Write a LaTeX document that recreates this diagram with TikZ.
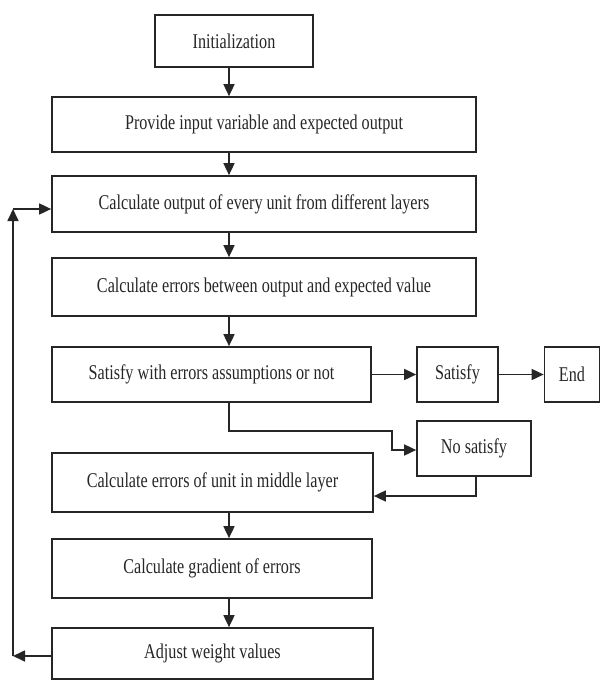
\documentclass[tikz,border=0pt]{standalone}
\usepackage{fontspec}
\setmainfont{Liberation Serif}[FakeStretch=0.77]
\usetikzlibrary{arrows.meta,calc}
\begin{document}
\begin{tikzpicture}[x=1pt,y=-1pt,
  box/.style={draw=black!85,line width=1.7pt,inner sep=0pt,anchor=center,text=black!85,
    font=\fontsize{21}{24}\selectfont},
  arr/.style={draw=black!85,line width=1.7pt,-{Triangle[length=12pt,width=11pt]}},
  ln/.style={draw=black!85,line width=1.7pt}]
\useasboundingbox (0,0) rectangle (601,680);
\node[box,minimum width=158pt,minimum height=52pt] (init) at (234,41) {Initialization};
\node[box,minimum width=424pt,minimum height=55pt] (prov) at (264,124.5) {Provide input variable and expected output};
\node[box,minimum width=424pt,minimum height=56pt] (calc) at (264,204) {Calculate output of every unit from different layers};
\node[box,minimum width=424pt,minimum height=58pt] (err) at (264,287) {Calculate errors between output and expected value};
\node[box,minimum width=319pt,minimum height=55pt] (sat) at (211.5,374.5) {Satisfy with errors assumptions or not};
\node[box,minimum width=81pt,minimum height=55pt] (yes) at (457.5,374.5) {Satisfy};
\node[box,minimum width=55pt,minimum height=55pt] (end) at (572,374.5) {End};
\node[box,minimum width=114pt,minimum height=55pt] (no) at (474,448.5) {No satisfy};
\node[box,minimum width=321pt,minimum height=59pt] (mid) at (212.5,482.5) {Calculate errors of unit in middle layer};
\node[box,minimum width=320pt,minimum height=59pt] (grad) at (212,568.5) {Calculate gradient of errors};
\node[box,minimum width=321pt,minimum height=51pt] (adj) at (212.5,653.5) {Adjust weight values};
\coordinate (X) at (229,0);
\coordinate (k1) at (229,431);
\coordinate (k2) at (392,431);
\coordinate (k3) at (392,450);
\coordinate (n1) at (476,496);
\coordinate (f1) at (13,656);
\coordinate (f2) at (13,209);
\draw[arr] (init.south -| X) -- (prov.north -| X);
\draw[arr] (prov.south -| X) -- (calc.north -| X);
\draw[arr] (calc.south -| X) -- (err.north -| X);
\draw[arr] (err.south -| X) -- (sat.north -| X);
\draw[arr] (sat.east) -- (yes.west);
\draw[arr] (yes.east) -- (end.west);
\draw[arr] (sat.south -| X) -- (k1) -- (k2) -- (k3) -- (k3 -| no.west);
\draw[arr] (no.south -| n1) -- (n1) -- (n1 -| mid.east);
\draw[arr] (mid.south -| X) -- (grad.north -| X);
\draw[arr] (grad.south -| X) -- (adj.north -| X);
\draw[arr] (f1 -| adj.west) -- (f1);
\draw[arr] (f1) -- (f2);
\draw[arr] (f2) -- (f2 -| calc.west);
\end{tikzpicture}
\end{document}
